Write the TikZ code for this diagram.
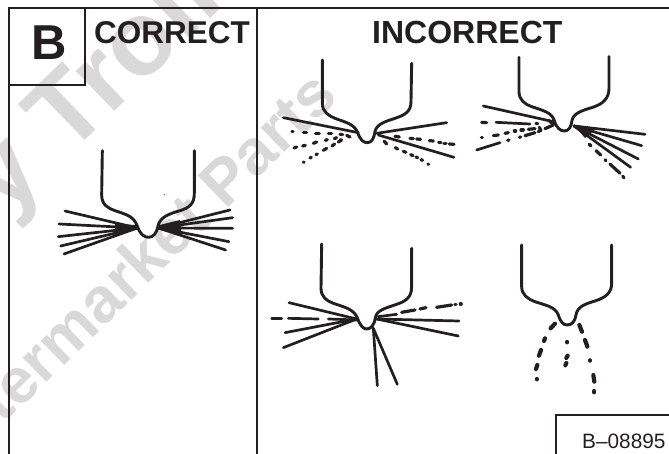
\documentclass[tikz,border=0pt]{standalone}
\usepackage{fontspec}
\setmainfont{Liberation Sans}
\definecolor{ink}{RGB}{35,31,32}
\definecolor{mark}{RGB}{217,217,217}
\tikzset{
  zoomed/.style 2 args={shift={(#1pt,-#2pt)},x=.3333pt,y=-.3333pt},
  frame/.style={draw=ink,line width=2pt},
  wall/.style={draw=ink,line width=2.9pt,line cap=round,line join=round},
  jet/.style={draw=ink,line width=2.7pt,line cap=round},
  dotted jet/.style={draw=ink,line width=3.2pt,line cap=round},
  big dot/.style={draw=ink,line width=4.2pt,line cap=round},
  wmark/.style={text=mark,inner sep=0pt,anchor=base west,rotate=44}
}
\newcommand{\specks}[2][dotted jet]{\foreach \ax/\ay/\bx/\by in {#2}{\draw[#1] (\ax,\ay) -- (\bx,\by);}}
\begin{document}
\begin{tikzpicture}[x=1pt,y=-1pt]
\useasboundingbox (0,0) rectangle (669,454);
\begin{scope}
\clip (0,0) rectangle (669,454);
\node[wmark,font=\bfseries\fontsize{105}{105}\selectfont] (wa) at (4,218) {y Trolley};
\node[wmark,font=\bfseries\fontsize{64}{64}\selectfont] (wb) at (-46,472) {Aftermarket Parts};
\end{scope}
% frame
\draw[frame] (669,8.5) -- (8.5,8.5) -- (8.5,454);
\draw[frame] (257,8.5) -- (257,454);
\draw[frame] (8.5,85) -- (85,85) -- (85,8.5);
\draw[frame] (669,415) -- (556,415) -- (556,454);
\node[text=ink,inner sep=0pt,anchor=base,font=\bfseries\fontsize{49}{49}\selectfont] (lb) at (49,60) {B};
\node[text=ink,inner sep=0pt,anchor=base west,font=\bfseries\fontsize{31.5}{31.5}\selectfont] (lc) at (94,44) {CORRECT};
\node[text=ink,inner sep=0pt,anchor=base west,font=\bfseries\fontsize{32}{32}\selectfont] (li) at (372,44) {INCORRECT};
\node[text=ink,inner sep=0pt,anchor=base west,font=\fontsize{20.8}{20.8}\selectfont] (ln) at (582,448) {B–08895};
% correct
\begin{scope}[zoomed={40}{140}]
\draw[wall] (187,32) -- (185,165) .. controls (185,195) and (205,205) .. (225,212) .. controls (260,224) and (280,228) .. (292,258) .. controls (300,285) and (315,292) .. (325,292) .. controls (340,292) and (350,280) .. (354,258) .. controls (360,232) and (385,222) .. (420,212) .. controls (450,203) and (463,190) .. (463,160) -- (463,32);
\foreach \e in {(75,213),(57,252),(55,290),(62,318),(72,342)}{\draw[jet] (292,264) -- \e;}
\foreach \e in {(570,210),(578,233),(578,265),(567,305),(557,330)}{\draw[jet] (355,264) -- \e;}
\fill[ink] (225,250) -- (292,256) -- (292,268) -- (225,285) -- cycle;
\fill[ink] (420,240) -- (355,256) -- (355,268) -- (425,285) -- cycle;
\fill[ink] (374,164) circle (1.5);
\end{scope}
% incorrect 1
\begin{scope}[zoomed={270}{50}]
\draw[wall] (157,30) -- (157,160) .. controls (157,185) and (175,197) .. (195,205) .. controls (230,218) and (250,222) .. (262,245) .. controls (270,270) and (280,278) .. (292,278) .. controls (305,278) and (312,265) .. (315,245) .. controls (320,222) and (345,215) .. (375,205) .. controls (405,195) and (423,185) .. (423,155) -- (425,40);
\draw[jet] (40,203) -- (265,248);
\draw[jet] (530,218) -- (320,250);
\draw[jet] (552,322) -- (325,255);
\specks{66/245/69/245,100/248/110/248,136/250/148/250,175/250/185/250,210/253/218/254,230/256/240/261,
72/294/80/291,98/288/106/286,130/280/140/276,166/271/172/269,193/266/200/263,210/271/214/269,
100/337/102/336,120/324/124/322,138/314/142/312,160/301/170/295,186/288/194/282,205/276/215/270,
375/259/388/261,420/265/430/266,440/267/452/268,478/272/490/273,506/277/513/278,522/280/528/280,538/282/552/283,
343/274/350/282,376/293/383/297,400/304/408/307,422/314/429/317,438/321/443/323,453/329/458/331,474/342/476/343}
\end{scope}
% incorrect 2
\begin{scope}[zoomed={470}{50}]
\draw[wall] (147,22) -- (147,125) .. controls (147,150) and (165,163) .. (185,170) .. controls (220,182) and (245,187) .. (253,212) .. controls (260,235) and (272,243) .. (283,243) .. controls (296,243) and (303,232) .. (306,212) .. controls (310,190) and (335,182) .. (365,173) .. controls (400,162) and (417,145) .. (417,115) -- (417,20);
\draw[jet] (40,168) -- (250,215);
\draw[jet] (78,217) -- (180,222);
\draw[jet] (20,300) -- (90,278);
\specks{35/217/50/218,198/220/203/221,34/263/37/263,70/257/85/255,105/250/115/248,133/243/137/243,153/240/160/240,175/238/195/236,208/232/213/242,225/236/250/225,
113/271/117/270,148/262/152/261,165/257/195/248,205/245/212/240,237/212/250/222}
\foreach \e in {(525,253),(515,287),(505,327),(482,352)}{\draw[jet] (312,228) -- \e;}
\fill[ink] (310,224) -- (378,236) -- (345,264) -- cycle;
\specks{358/283/363/288,378/302/392/315,405/329/408/332,420/342/450/370,458/379/462/383}
\end{scope}
% incorrect 3
\begin{scope}[zoomed={265}{235}]
\draw[wall] (170,27) -- (168,160) .. controls (168,185) and (185,198) .. (205,205) .. controls (240,217) and (265,222) .. (277,248) .. controls (285,272) and (295,282) .. (305,282) .. controls (318,282) and (328,270) .. (331,248) .. controls (336,225) and (360,220) .. (395,208) .. controls (425,198) and (440,185) .. (440,155) -- (440,40);
\foreach \e in {(72,203),(60,293),(55,338)}{\draw[jet] (275,252) -- \e;}
\draw[jet] (20,250) -- (50,250);
\draw[jet] (70,250) -- (160,252);
\draw[jet] (190,252) -- (275,255);
\foreach \e in {(582,258),(580,303)}{\draw[jet] (335,252) -- \e;}
\draw[jet] (340,245) -- (395,238);
\specks{410/232/450/225,465/222/483/218,515/217/560/210,570/208/573/208,586/207/589/207}
\draw[jet] (325,280) -- (337,452);
\draw[jet] (325,280) -- (397,448);
\end{scope}
% incorrect 4
\begin{scope}[zoomed={500}{235}]
\draw[wall] (65,30) -- (65,155) .. controls (65,180) and (85,193) .. (105,200) .. controls (140,212) and (165,215) .. (175,240) .. controls (182,262) and (190,270) .. (202,270) .. controls (215,270) and (225,260) .. (228,240) .. controls (232,215) and (255,207) .. (285,198) .. controls (315,188) and (335,175) .. (335,145) -- (335,30);
\specks[big dot]{152/280/165/266,135/310/132/318,123/345/117/362,112/390/108/402,110/432/110/433,202/321/202/322,203/362/199/369,199/384/196/391,238/270/246/290,255/315/262/335,270/376/270/377,280/420/283/440,283/468/283/472}
\end{scope}
\end{tikzpicture}
\end{document}
